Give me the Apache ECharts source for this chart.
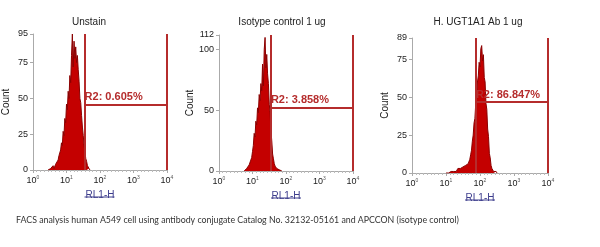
<!DOCTYPE html>
<html><head><meta charset="utf-8">
<script src="https://cdn.jsdelivr.net/npm/echarts@6/dist/echarts.min.js"></script>
<style>html,body{margin:0;padding:0;background:#fff}#c{width:600px;height:247px}</style>
</head><body><div id="c"></div>
<script>
// ---- data (x positions are log10 decades of RL1-H, y = Count) ----
const titles = ['Unstain', 'Isotype control 1 ug', 'H. UGT1A1 Ab 1 ug'];
const xTickExponents = ['0', '1', '2', '3', '4'];
const yMax = [95, 112, 89];
const yInterval = [25, 50, 25];
const binStep = 0.025;
const binStart = [0.45, 0.75, 1.00];
const counts1 = [0,1,0,1,2,1,3,1,2,4,5,3,7,10,9,14,19,17,27,24,36,33,46,42,55,50,66,61,80,95,72,90,78,86,75,80,70,62,50,47,38,30,24,17,13,8,6,3,2,1,0];
const counts2 = [0,1,1,2,3,2,5,4,9,11,16,21,31,28,41,38,52,48,63,58,72,66,88,70,100,110,85,96,80,72,55,48,33,25,14,10,6,4,3,2,2,1,1,0,1,0];
const counts3 = [0,0,1,0,1,0,1,1,2,1,1,2,1,2,3,2,2,3,2,3,4,3,4,5,4,5,6,7,9,12,15,21,25,33,36,46,49,60,64,73,70,82,84,74,78,63,60,46,42,29,24,13,10,5,3,2,1,1,0,1,0];
const gateLeft = [1.54, 1.55, 1.88];   // decades
const gateRight = [3.98, 3.99, 3.99];
const gateLevel = [45.5, 52.5, 46.8];  // count
const gateLabels = ['R2: 0.605%', 'R2: 3.858%', 'R2: 86.847%'];
const caption = 'FACS analysis human A549 cell using antibody conjugate Catalog No. 32132-05161 and APCCON (isotype control)';

const countsAll = [counts1, counts2, counts3];
const grids = [
  {left: 32, top: 34, width: 135, height: 136},
  {left: 219, top: 35, width: 134, height: 136},
  {left: 412, top: 38, width: 136, height: 135}
];
const titleX = [84, 277, 473];

const chart = echarts.init(document.getElementById('c'), null, {renderer: 'canvas'});
const red = '#c40000', dark = '#8a0000', gate = '#b52c2c';

const option = {
  animation: false,
  backgroundColor: '#fff',
  title: titles.map((t, i) => ({
    text: t, left: titleX[i], top: 12, textAlign: 'center',
    textStyle: {fontFamily: 'Liberation Sans', fontSize: 10, fontWeight: 'normal', color: '#222'}
  })),
  grid: grids,
  xAxis: grids.map((g, i) => ({
    gridIndex: i, type: 'value', min: 0, max: 4, interval: 1,
    name: 'RL1-H', nameLocation: 'middle', nameGap: 20,
    nameTextStyle: {fontFamily: 'Liberation Sans', fontSize: 10, color: '#3c3c8c'},
    axisLine: {lineStyle: {color: '#aaa', width: 1}},
    axisTick: {show: true, length: 3, lineStyle: {color: '#aaa'}},
    minorTick: {show: true, splitNumber: 9, length: 2, lineStyle: {color: '#bbb'}},
    splitLine: {show: false},
    axisLabel: {
      margin: 5, color: '#222', fontFamily: 'Liberation Sans', fontSize: 9,
      formatter: v => '10{s|' + xTickExponents[Math.round(v)] + '}',
      rich: {s: {fontSize: 5, verticalAlign: 'top', padding: [0, 0, 6, 0], color: '#555'}}
    }
  })),
  yAxis: grids.map((g, i) => ({
    gridIndex: i, type: 'value', min: 0, max: yMax[i], interval: yInterval[i],
    name: 'Count', nameLocation: 'middle', nameGap: 22, nameRotate: 90,
    nameTextStyle: {fontFamily: 'Liberation Sans', fontSize: 10, color: '#222'},
    axisLine: {show: true, lineStyle: {color: '#aaa', width: 1}},
    axisTick: {show: true, length: 3, lineStyle: {color: '#aaa'}},
    splitLine: {show: false},
    axisLabel: {margin: 5, color: '#222', fontFamily: 'Liberation Sans', fontSize: 9, showMaxLabel: true}
  })),
  series: []
};

countsAll.forEach((cs, i) => {
  const data = cs.map((c, k) => [binStart[i] + k * binStep, c]);
  option.series.push({
    type: 'line', xAxisIndex: i, yAxisIndex: i, data: data,
    showSymbol: false, symbol: 'none', z: 3,
    lineStyle: {color: dark, width: 1},
    areaStyle: {color: red, opacity: 1}
  });
  option.series.push({
    type: 'line', xAxisIndex: i, yAxisIndex: i, data: [], z: 2,
    markLine: {
      silent: true, symbol: 'none', animation: false,
      lineStyle: {color: gate, width: 2, type: 'solid'},
      label: {show: false},
      data: [
        [{coord: [gateLeft[i], 0]}, {coord: [gateLeft[i], yMax[i]]}],
        [{coord: [gateRight[i], 0]}, {coord: [gateRight[i], yMax[i]]}],
        [{coord: [gateLeft[i], gateLevel[i]],
          label: {show: true, position: 'insideStartTop', formatter: gateLabels[i], distance: [0, 2],
                  color: gate, fontFamily: 'Liberation Sans', fontSize: 11, fontWeight: 'bold'}},
         {coord: [gateRight[i], gateLevel[i]]}]
      ]
    }
  });
});

option.graphic = [
  {type: 'text', left: 16, top: 216,
   style: {text: caption, fontFamily: 'Lato', fontSize: 8.8, fill: '#333'}}
].concat(grids.map(g => ({
  type: 'line', z: 10,
  shape: {x1: g.left + g.width / 2 - 15, y1: g.top + g.height + 27, x2: g.left + g.width / 2 + 15, y2: g.top + g.height + 27},
  style: {stroke: '#3c3c8c', lineWidth: 1}
})));

chart.setOption(option);
</script></body></html>
